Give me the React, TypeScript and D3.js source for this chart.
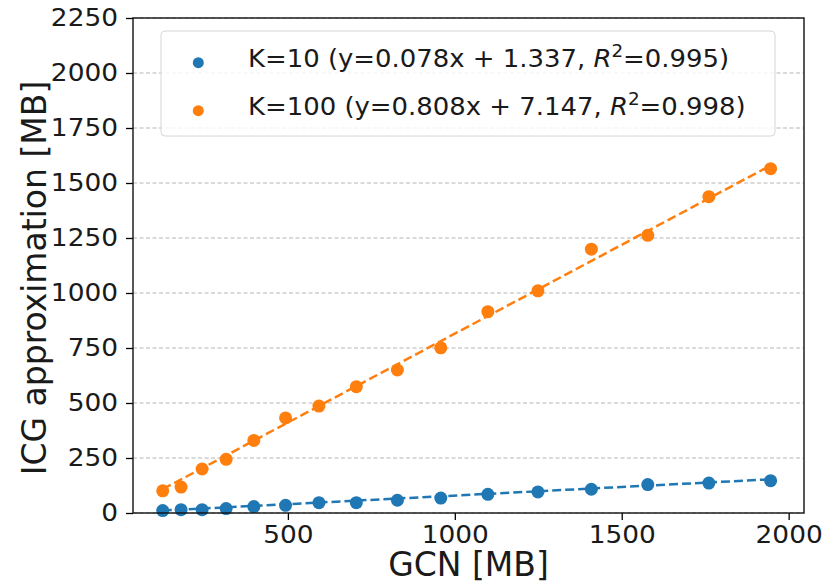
import React, { useEffect, useRef } from 'react';
import * as d3 from 'd3';

// GCN memory (MB) for each measured graph
const gcnSizes = [125, 180, 243, 315, 398, 493, 593, 705, 828, 958, 1099, 1249, 1409, 1578, 1761, 1946];
// ICG approximation memory (MB)
const k10Values = [11, 15, 15, 20, 29, 35, 47, 47, 58, 68, 85, 96, 108, 129, 136, 147];
const k100Values = [101, 118, 200, 244, 330, 432, 486, 574, 650, 751, 915, 1010, 1199, 1262, 1438, 1565];

const seriesNames = ['K=10', 'K=100'];
const slopes = [0.078, 0.808];
const intercepts = [1.337, 7.147];
const rSquared = ['0.995', '0.998'];

const yTicks = [0, 250, 500, 750, 1000, 1250, 1500, 1750, 2000, 2250];
const xTicks = [500, 1000, 1500, 2000];

const WIDTH = 824;
const HEIGHT = 582;
const FONT = 'DejaVu Sans, sans-serif';

const App = () => {
  const svgRef = useRef<SVGSVGElement>(null);

  useEffect(() => {
    const svg = d3.select(svgRef.current);
    svg.selectAll('*').remove();

    const margin = { top: 18, right: 20, bottom: 69, left: 133 };
    const colors = ['#1f77b4', '#ff7f0e'];
    const stretch = 1.1; // the source picture's text is a bit wider than DejaVu

    const x = d3.scaleLinear().domain([36, 2046]).range([margin.left, WIDTH - margin.right]);
    const y = d3.scaleLinear().domain([0, 2250]).range([HEIGHT - margin.bottom, margin.top]);

    svg.append('rect').attr('width', WIDTH).attr('height', HEIGHT).attr('fill', '#fff');

    // horizontal grid
    svg.append('g')
      .selectAll('line')
      .data(yTicks)
      .join('line')
      .attr('x1', x.range()[0])
      .attr('x2', x.range()[1])
      .attr('y1', d => y(d))
      .attr('y2', d => y(d))
      .attr('stroke', '#b5b5b5')
      .attr('stroke-width', 1)
      .attr('stroke-dasharray', '4,2.5');

    const seriesData = [k10Values, k100Values];

    // points
    seriesData.forEach((vals, s) => {
      svg.append('g')
        .selectAll('circle')
        .data(vals)
        .join('circle')
        .attr('cx', (d, i) => x(gcnSizes[i]))
        .attr('cy', d => y(d))
        .attr('r', 6.5)
        .attr('fill', colors[s]);
    });

    // fitted lines
    const [xMin, xMax] = d3.extent(gcnSizes) as [number, number];
    slopes.forEach((m, s) => {
      const line = d3.line<number>()
        .x(d => x(d))
        .y(d => y(m * d + intercepts[s]));
      svg.append('path')
        .datum([xMin, xMax])
        .attr('d', line)
        .attr('fill', 'none')
        .attr('stroke', colors[s])
        .attr('stroke-width', 2.5)
        .attr('stroke-dasharray', '9,4');
    });

    // axes
    const xAxis = svg.append('g')
      .attr('transform', `translate(0,${y.range()[0]})`)
      .call(d3.axisBottom(x).tickValues(xTicks).tickSize(7).tickPadding(6).tickFormat(d3.format('d')));
    const yAxis = svg.append('g')
      .attr('transform', `translate(${x.range()[0]},0)`)
      .call(d3.axisLeft(y).tickValues(yTicks).tickSize(7).tickPadding(7).tickFormat(d3.format('d')));

    [xAxis, yAxis].forEach(a => {
      a.select('.domain').remove();
      a.selectAll('line').attr('stroke', '#000').attr('stroke-width', 1.3);
      a.selectAll('text')
        .attr('fill', '#1a1a1a')
        .attr('transform', `scale(${stretch},1)`)
        .style('font-family', FONT)
        .style('font-size', '24px');
    });
    yAxis.selectAll('text').attr('x', -15 / stretch);

    // frame
    svg.append('rect')
      .attr('x', x.range()[0])
      .attr('y', y.range()[1])
      .attr('width', x.range()[1] - x.range()[0])
      .attr('height', y.range()[0] - y.range()[1])
      .attr('fill', 'none')
      .attr('stroke', '#111')
      .attr('stroke-width', 1.4);

    // axis titles
    svg.append('text')
      .attr('x', (x.range()[0] + x.range()[1]) / 2)
      .attr('y', 576)
      .attr('text-anchor', 'middle')
      .attr('fill', '#1a1a1a')
      .style('font-family', FONT)
      .style('font-size', '33px')
      .text('GCN [MB]');

    svg.append('text')
      .attr('transform', `translate(46,278) rotate(-90)`)
      .attr('text-anchor', 'middle')
      .attr('fill', '#1a1a1a')
      .style('font-family', FONT)
      .style('font-size', '33px')
      .text('ICG approximation [MB]');

    // legend
    const legend = svg.append('g');
    legend.append('rect')
      .attr('x', 161)
      .attr('y', 31)
      .attr('width', 614)
      .attr('height', 105)
      .attr('rx', 4)
      .attr('fill', '#fff')
      .attr('fill-opacity', 0.8)
      .attr('stroke', '#d6d6d6')
      .attr('stroke-width', 1);

    seriesNames.forEach((name, s) => {
      const cy = 62.7 + s * 48;
      legend.append('circle')
        .attr('cx', 198.3)
        .attr('cy', cy)
        .attr('r', 5.5)
        .attr('fill', colors[s]);

      const t = legend.append('text')
        .attr('transform', `translate(248,${cy + 4.6}) scale(1.08,1)`)
        .attr('fill', '#1a1a1a')
        .style('font-family', FONT)
        .style('font-size', '24px');
      t.append('tspan').text(`${name} (y=${slopes[s].toFixed(3)}x + ${intercepts[s].toFixed(3)}, `);
      t.append('tspan').style('font-style', 'italic').text('R');
      t.append('tspan').attr('dy', -10).style('font-size', '17px').text('2');
      t.append('tspan').attr('dy', 10).text(`=${rSquared[s]})`);
    });
  }, []);

  return (
    <div style={{ position: 'absolute', left: 0, top: 0, width: WIDTH, height: HEIGHT }}>
      <svg ref={svgRef} width={WIDTH} height={HEIGHT} style={{ display: 'block' }} />
    </div>
  );
};

export default App;
